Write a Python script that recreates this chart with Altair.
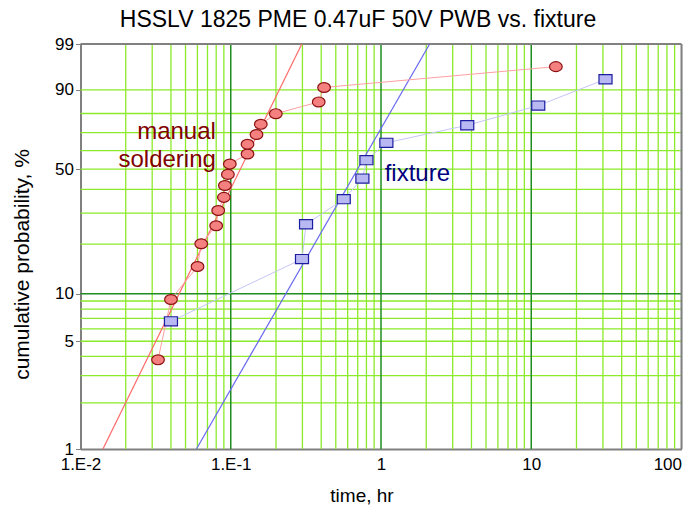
import math
import altair as alt
import pandas as pd

# ---- data ----
red_time = [0.0328, 0.040, 0.0601, 0.0636, 0.080, 0.0825, 0.090, 0.0914, 0.0957, 0.0986,
            0.1293, 0.1293, 0.1484, 0.1585, 0.1995, 0.385, 0.418, 14.58]
red_F = [3.8, 9.2, 14.7, 20.1, 25.5, 31.0, 36.4, 41.8, 47.3, 52.7,
         58.2, 63.6, 69.0, 74.5, 79.9, 85.3, 90.8, 96.2]

blue_time = [0.040, 0.298, 0.317, 0.565, 0.752, 0.80, 1.086, 3.75, 11.13, 31.2]
blue_F = [6.7, 16.3, 26.0, 35.6, 45.2, 54.8, 64.4, 74.0, 83.7, 93.3]

red_fit_time = [0.0141, 0.297]
red_fit_F = [1, 99]
blue_fit_time = [0.0591, 2.108]
blue_fit_F = [1, 99]

x_minor = [0.02, 0.03, 0.04, 0.05, 0.06, 0.07, 0.08, 0.09,
           0.2, 0.3, 0.4, 0.5, 0.6, 0.7, 0.8, 0.9,
           2, 3, 4, 5, 6, 7, 8, 9,
           20, 30, 40, 50, 60, 70, 80, 90]
x_major = [0.1, 1, 10]
y_minor = [2, 3, 4, 5, 6, 7, 8, 9, 20, 30, 40, 50, 60, 70, 80, 90]
y_major = [10]
y_tick_labels = [1, 5, 10, 50, 90, 99]
x_tick_values = [0.01, 0.1, 1, 10, 100]
frame_x = [0.01, 100]
frame_F = [1, 99]

ann_text = ["manual", "soldering", "fixture"]
ann_time = [0.0796, 0.0796, 1.058]
ann_F = [70.4, 54.9, 47.5]
ann_color = ["#800000", "#800000", "#000080"]
ann_align = ["right", "right", "left"]

FONT = "Liberation Sans"


def wb(p):
    return math.log(-math.log(1 - p / 100.0))


W_EXPR = "log(-log(1 - datum.F / 100))"
xscale = alt.Scale(type="log", domain=[0.01, 100], nice=False)
yscale = alt.Scale(domain=[wb(1), wb(99)], nice=False, zero=False)

x_axis = alt.Axis(values=x_tick_values, grid=False, ticks=False,
                  labelExpr="datum.value < 0.05 ? '1.E-2' : datum.value < 0.5 ? '1.E-1' : format(datum.value, 'd')",
                  labelAlign=alt.ConditionalAxisLabelAlign(
                      condition={"test": "datum.value > 50", "value": "right"}, value="center"),
                  labelFont=FONT, labelFontSize=17, labelColor="black", labelPadding=7,
                  labelFlush=False, labelOverlap=False,
                  domainColor="#808080", domainWidth=2,
                  title="time, hr", titleFont=FONT, titleFontSize=19, titleFontWeight="normal",
                  titleColor="black", titleBaseline="middle", titleX=281, titleY=46, titleAnchor="middle")
y_axis = alt.Axis(values=[wb(v) for v in y_tick_labels], grid=False, ticks=True, tickSize=5,
                  tickColor="#808080",
                  labelExpr="format(round(100 * (1 - exp(-exp(datum.value)))), 'd')",
                  labelFont=FONT, labelFontSize=17, labelColor="black", labelPadding=2,
                  labelFlush=False, labelOverlap=False,
                  domainColor="#808080", domainWidth=2,
                  title="cumulative probability, %", titleFont=FONT, titleFontSize=21,
                  titleFontWeight="normal", titleColor="black", titleAngle=-90,
                  titleBaseline="middle", titleX=-58, titleY=220, titleAnchor="middle")

LIGHT = "#8BEA2A"
DARK = "#1E8C1E"

vgrid_minor = alt.Chart(pd.DataFrame({"t": x_minor})).mark_rule(
    color=LIGHT, strokeWidth=1.3).encode(x=alt.X("t:Q", scale=xscale, axis=x_axis))
vgrid_major = alt.Chart(pd.DataFrame({"t": x_major})).mark_rule(
    color=DARK, strokeWidth=1.5).encode(x=alt.X("t:Q", scale=xscale))
hgrid_minor = alt.Chart(pd.DataFrame({"F": y_minor})).transform_calculate(w=W_EXPR).mark_rule(
    color=LIGHT, strokeWidth=1.3).encode(y=alt.Y("w:Q", scale=yscale, axis=y_axis))
hgrid_major = alt.Chart(pd.DataFrame({"F": y_major})).transform_calculate(w=W_EXPR).mark_rule(
    color=DARK, strokeWidth=1.5).encode(y=alt.Y("w:Q", scale=yscale))

# top and right frame edges
frame_top = alt.Chart(pd.DataFrame({"F": [frame_F[1]]})).transform_calculate(w=W_EXPR).mark_rule(
    color="#808080", strokeWidth=2).encode(y=alt.Y("w:Q", scale=yscale))
frame_right = alt.Chart(pd.DataFrame({"t": [frame_x[1]]})).mark_rule(
    color="#808080", strokeWidth=2).encode(x=alt.X("t:Q", scale=xscale))

red_df = pd.DataFrame({"t": red_time, "F": red_F, "rank": list(range(len(red_time)))})
blue_df = pd.DataFrame({"t": blue_time, "F": blue_F, "rank": list(range(len(blue_time)))})


def series(df):
    return alt.Chart(df).transform_calculate(w=W_EXPR)


red_fit = series(pd.DataFrame({"t": red_fit_time, "F": red_fit_F})).mark_line(
    color="#FF6A6A", strokeWidth=1.2, clip=True).encode(
    x=alt.X("t:Q", scale=xscale), y=alt.Y("w:Q", scale=yscale))
blue_fit = series(pd.DataFrame({"t": blue_fit_time, "F": blue_fit_F})).mark_line(
    color="#6A6AF0", strokeWidth=1.2, clip=True).encode(
    x=alt.X("t:Q", scale=xscale), y=alt.Y("w:Q", scale=yscale))

red_conn = series(red_df).mark_line(color="#FFA0A0", strokeWidth=1, clip=True).encode(
    x=alt.X("t:Q", scale=xscale), y=alt.Y("w:Q", scale=yscale), order="rank:Q")
blue_conn = series(blue_df).mark_line(color="#C4C4F6", strokeWidth=1, clip=True).encode(
    x=alt.X("t:Q", scale=xscale), y=alt.Y("w:Q", scale=yscale), order="rank:Q")

ELLIPSE = "M -1 0 A 1 0.78 0 1 0 1 0 A 1 0.78 0 1 0 -1 0 Z"
RECT = "M -1 -0.7 L 1 -0.7 L 1 0.7 L -1 0.7 Z"

red_pts = series(red_df).mark_point(shape=ELLIPSE, size=160, filled=True, fill="#F48080",
                                    stroke="#8B1010", strokeWidth=1.2, opacity=1).encode(
    x=alt.X("t:Q", scale=xscale), y=alt.Y("w:Q", scale=yscale))
blue_pts = series(blue_df).mark_point(shape=RECT, size=170, filled=True, fill="#B8B8F2",
                                      stroke="#1C1CA0", strokeWidth=1.2, opacity=1).encode(
    x=alt.X("t:Q", scale=xscale), y=alt.Y("w:Q", scale=yscale))

ann_df = pd.DataFrame({"label": ann_text, "t": ann_time, "F": ann_F})
ann_layers = []
for i in range(len(ann_text)):
    sub = ann_df.iloc[[i]]
    ann_layers.append(
        series(sub).mark_text(font=FONT, fontSize=24, align=ann_align[i], baseline="middle",
                              color=ann_color[i]).encode(
            x=alt.X("t:Q", scale=xscale), y=alt.Y("w:Q", scale=yscale), text="label:N"))

chart = alt.layer(
    vgrid_minor, hgrid_minor, vgrid_major, hgrid_major, frame_top, frame_right,
    red_fit, blue_fit, red_conn, blue_conn, red_pts, blue_pts, *ann_layers
).properties(
    width=601, height=405,
    title=alt.TitleParams("HSSLV 1825 PME 0.47uF 50V PWB vs. fixture", font=FONT, fontSize=23,
                          fontWeight="normal", color="black", anchor="middle", dx=-23, offset=3),
    padding={"left": 72.5, "top": 36, "right": 6, "bottom": 56},
    autosize=alt.AutoSizeParams(type="none"),
).configure_view(stroke="#808080", strokeWidth=2).configure(background="white")

chart.save("out.html", embed_options={"renderer": "svg", "actions": False})
